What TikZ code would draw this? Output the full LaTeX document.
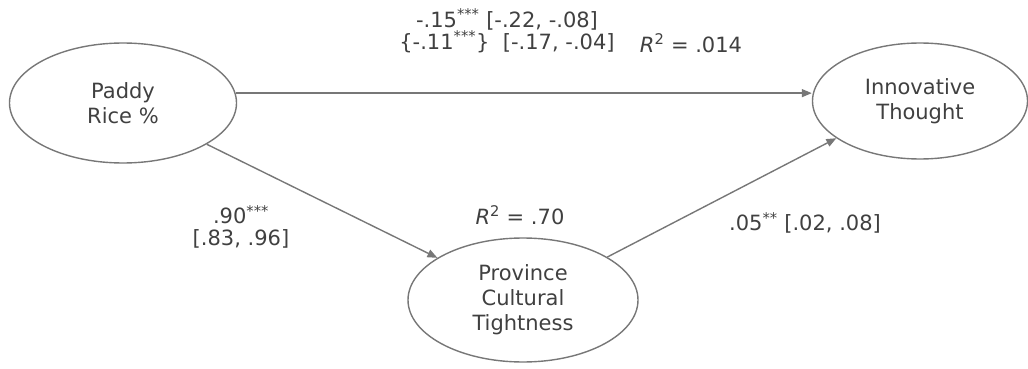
\documentclass[tikz,border=0pt]{standalone}
\usepackage{fontspec}
\setmainfont{DejaVu Sans}
\usetikzlibrary{arrows.meta,shapes.geometric}

\definecolor{txtgray}{HTML}{404040}
\definecolor{linegray}{HTML}{777777}

\begin{document}
\begin{tikzpicture}[x=1pt, y=-1pt,
  latent/.style={ellipse, draw=linegray, line width=1.4pt, inner sep=0pt,
                 align=center, text=txtgray, font=\fontsize{21}{25}\selectfont},
  path/.style={line width=1.4pt, linegray, -{Triangle[length=10pt, width=8pt]}},
  coef/.style={text=txtgray, align=center, inner sep=0pt,
               font=\fontsize{21}{22}\selectfont}
]
  \useasboundingbox (0,0) rectangle (1028,369);
  \node[latent, minimum width=227pt, minimum height=120pt] (paddy) at (123,103) {Paddy\\Rice \%};
  \node[latent, minimum width=215pt, minimum height=116pt] (innov) at (920,101) {Innovative\\Thought};
  \node[latent, minimum width=230pt, minimum height=124pt] (prov) at (523,300) {Province\\Cultural\\Tightness};
  \draw[path] (paddy.5) -- (paddy.5 -| innov.west);
  \draw[path] (paddy) -- (prov);
  \draw[path] (prov.27) -- (innov.204);
  \node[coef] (direct) at (507,31) {-.15\textsuperscript{***} [-.22, -.08]\\
    \{-.11\textsuperscript{***}\}\ \ [-.17, -.04]};
  \node[coef] (rsqinnov) at (691,43) {\textit{R}\textsuperscript{2} = .014};
  \node[coef] (apath) at (241,227) {.90\textsuperscript{***}\\{}[.83, .96]};
  \node[coef] (rsqprov) at (520,215) {\textit{R}\textsuperscript{2} = .70};
  \node[coef] (bpath) at (805,223) {.05\textsuperscript{**} [.02, .08]};
\end{tikzpicture}
\end{document}
